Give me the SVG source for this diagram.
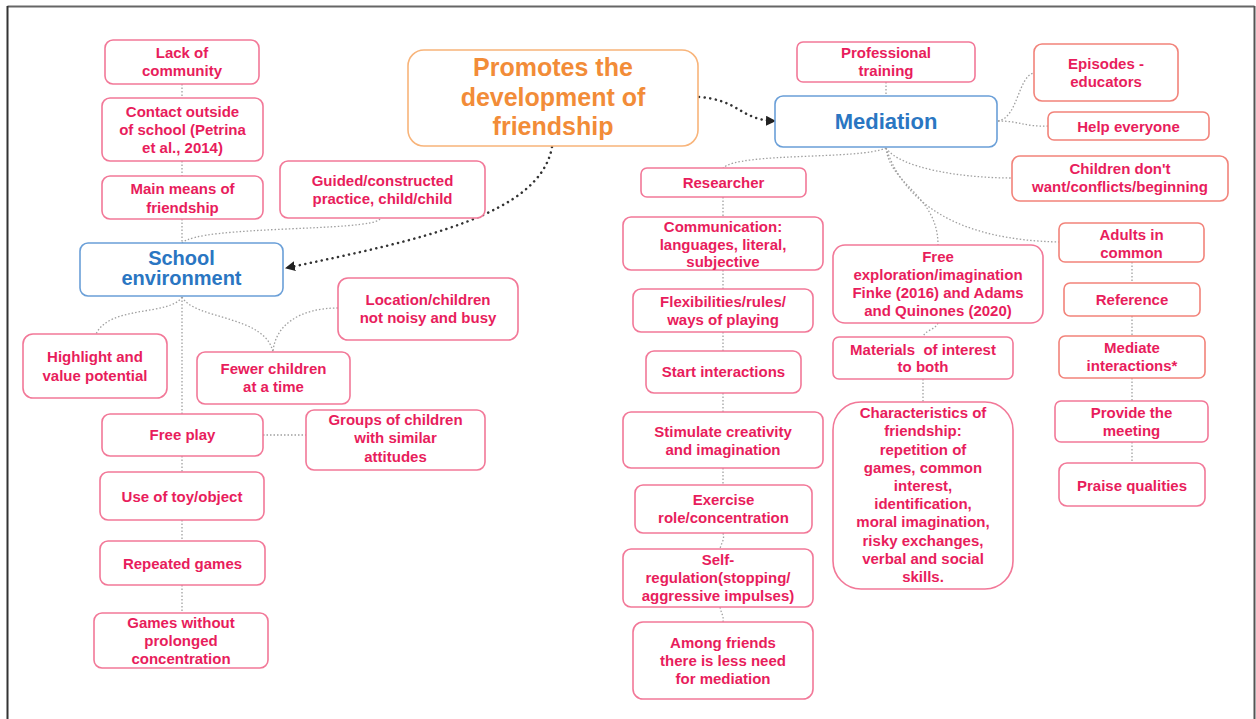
<svg xmlns="http://www.w3.org/2000/svg" width="1256" height="719" viewBox="0 0 1256 719">
<style>
.bx{fill:#fff;stroke:#f27898;stroke-width:1.6}
.bs{fill:#fff;stroke:#f2837a;stroke-width:1.6}
.bb{fill:#fff;stroke:#6a9fd8;stroke-width:1.6}
.bo{fill:#fff;stroke:#f8b47a;stroke-width:1.6}
text{font-family:"Liberation Sans",Arial,sans-serif;font-weight:bold;text-anchor:middle}
.t{font-size:15px;fill:#e81d5c}
.tb{font-size:20px;fill:#2a76c2}
.tm{font-size:22px;fill:#2a76c2}
.to{font-size:25px;fill:#f28c38}
.c{fill:none;stroke:#a0a0a0;stroke-width:1.3;stroke-dasharray:1.5 2}
.a{fill:none;stroke:#333;stroke-width:2.5;stroke-dasharray:0.1 5.5;stroke-linecap:round}
</style>
<defs>
<marker id="ah" viewBox="0 0 10 10" refX="9" refY="5" markerWidth="4" markerHeight="4" orient="auto">
<path d="M0,0 L10,5 L0,10 z" fill="#222"/>
</marker>
</defs>
<g id="frame" fill="none">
<line x1="7.5" y1="6.5" x2="1254.5" y2="6.5" stroke="#666" stroke-width="2"/>
<line x1="7.5" y1="6" x2="7.5" y2="719" stroke="#333" stroke-width="2"/>
<line x1="1254.5" y1="6" x2="1254.5" y2="719" stroke="#555" stroke-width="2"/>
</g>
<g id="connectors">
<path class="c" d="M182,84 V98"/>
<path class="c" d="M182,161 V176"/>
<path class="c" d="M182,219 V243"/>
<path class="c" d="M380,219 C370,232 200,225 182,243"/>
<path class="c" d="M182,297 C170,316 110,305 96,334"/>
<path class="c" d="M182,297 C195,320 265,315 273,352"/>
<path class="c" d="M338,308 C300,308 275,325 273,352"/>
<path class="c" d="M182,297 V414"/>
<path class="c" d="M263,435 H306"/>
<path class="c" d="M182,456 V472"/>
<path class="c" d="M182,520 V541"/>
<path class="c" d="M182,585 V613"/>
<path class="c" d="M886,82 V96"/>
<path class="c" d="M998,121 C1018,118 1018,76 1034,73"/>
<path class="c" d="M998,121 C1020,121 1025,127 1048,126"/>
<path class="c" d="M886,148 C900,168 960,178 1012,178"/>
<path class="c" d="M886,148 C860,160 740,152 723,168"/>
<path class="c" d="M886,148 C890,185 938,195 938,245"/>
<path class="c" d="M886,148 C905,205 960,240 1059,242"/>
<path class="c" d="M723,197 V217"/>
<path class="c" d="M723,270 V289"/>
<path class="c" d="M723,332 V351"/>
<path class="c" d="M723,393 V412"/>
<path class="c" d="M723,468 V485"/>
<path class="c" d="M723,533 C725,540 721,543 720,549"/>
<path class="c" d="M720,607 C721,613 724,616 723,622"/>
<path class="c" d="M938,323 C935,330 925,330 923,337"/>
<path class="c" d="M923,379 V402"/>
<path class="c" d="M1132,262 V283"/>
<path class="c" d="M1132,316 V336"/>
<path class="c" d="M1132,378 V401"/>
<path class="c" d="M1132,442 V463"/>
<path class="a" d="M552,147 C540,215 420,240 286,268" marker-end="url(#ah)"/>
<path class="a" d="M699,97 C740,100 740,120 775,121" marker-end="url(#ah)"/>
</g>
<g id="n-title"><rect class="bo" x="408" y="50" width="290" height="96" rx="16"/><text class="to" x="553" y="76">Promotes the</text><text class="to" x="553" y="105.5">development of</text><text class="to" x="553" y="135">friendship</text></g>
<g id="n-lack"><rect class="bx" x="105" y="40" width="154" height="44" rx="8"/><text class="t" x="182" y="58">Lack of</text><text class="t" x="182" y="76">community</text></g>
<g id="n-contact"><rect class="bx" x="102" y="98" width="161" height="63" rx="8"/><text class="t" x="182.5" y="116.5">Contact outside</text><text class="t" x="182.5" y="134.5">of school (Petrina</text><text class="t" x="182.5" y="152.5">et al., 2014)</text></g>
<g id="n-main"><rect class="bx" x="102" y="176" width="161" height="43" rx="8"/><text class="t" x="182.5" y="193.5">Main means of</text><text class="t" x="182.5" y="212.5">friendship</text></g>
<g id="n-guided"><rect class="bx" x="280" y="161" width="205" height="57" rx="8"/><text class="t" x="382.5" y="186">Guided/constructed</text><text class="t" x="382.5" y="204">practice, child/child</text></g>
<g id="n-school"><rect class="bb" x="80" y="243" width="203" height="53" rx="8"/><text class="tb" x="181.5" y="265">School</text><text class="tb" x="181.5" y="285">environment</text></g>
<g id="n-location"><rect class="bx" x="338" y="278" width="180" height="62" rx="10"/><text class="t" x="428" y="305">Location/children</text><text class="t" x="428" y="323">not noisy and busy</text></g>
<g id="n-highlight"><rect class="bx" x="23" y="334" width="144" height="64" rx="10"/><text class="t" x="95" y="362">Highlight and</text><text class="t" x="95" y="381">value potential</text></g>
<g id="n-fewer"><rect class="bx" x="197" y="352" width="153" height="52" rx="8"/><text class="t" x="273.5" y="374">Fewer children</text><text class="t" x="273.5" y="392">at a time</text></g>
<g id="n-freeplay"><rect class="bx" x="102" y="414" width="161" height="42" rx="8"/><text class="t" x="182.5" y="440">Free play</text></g>
<g id="n-groups"><rect class="bx" x="306" y="410" width="179" height="60" rx="8"/><text class="t" x="395.5" y="424.5">Groups of children</text><text class="t" x="395.5" y="443">with similar</text><text class="t" x="395.5" y="461.5">attitudes</text></g>
<g id="n-use"><rect class="bx" x="100" y="472" width="164" height="48" rx="8"/><text class="t" x="182" y="502">Use of toy/object</text></g>
<g id="n-repeated"><rect class="bx" x="100" y="541" width="165" height="44" rx="8"/><text class="t" x="182.5" y="569">Repeated games</text></g>
<g id="n-games"><rect class="bx" x="94" y="613" width="174" height="55" rx="8"/><text class="t" x="181" y="628">Games without</text><text class="t" x="181" y="646">prolonged</text><text class="t" x="181" y="664">concentration</text></g>
<g id="n-mediation"><rect class="bb" x="775" y="96" width="222" height="51" rx="8"/><text class="tm" x="886" y="129">Mediation</text></g>
<g id="n-professional"><rect class="bx" x="797" y="42" width="178" height="40" rx="6"/><text class="t" x="886" y="58">Professional</text><text class="t" x="886" y="76">training</text></g>
<g id="n-episodes"><rect class="bs" x="1034" y="44" width="144" height="57" rx="8"/><text class="t" x="1106" y="69">Episodes -</text><text class="t" x="1106" y="87">educators</text></g>
<g id="n-help"><rect class="bs" x="1048" y="112" width="161" height="28" rx="6"/><text class="t" x="1128.5" y="132">Help everyone</text></g>
<g id="n-children"><rect class="bs" x="1012" y="156" width="216" height="45" rx="8"/><text class="t" x="1120" y="174">Children don't</text><text class="t" x="1120" y="192">want/conflicts/beginning</text></g>
<g id="n-researcher"><rect class="bx" x="641" y="168" width="165" height="29" rx="6"/><text class="t" x="723.5" y="188">Researcher</text></g>
<g id="n-communication"><rect class="bx" x="623" y="217" width="200" height="53" rx="8"/><text class="t" x="723" y="232">Communication:</text><text class="t" x="723" y="250">languages, literal,</text><text class="t" x="723" y="267">subjective</text></g>
<g id="n-flex"><rect class="bx" x="633" y="289" width="180" height="43" rx="8"/><text class="t" x="723" y="307">Flexibilities/rules/</text><text class="t" x="723" y="325">ways of playing</text></g>
<g id="n-start"><rect class="bx" x="646" y="351" width="155" height="42" rx="8"/><text class="t" x="723.5" y="377">Start interactions</text></g>
<g id="n-stimulate"><rect class="bx" x="623" y="412" width="200" height="56" rx="8"/><text class="t" x="723" y="437">Stimulate creativity</text><text class="t" x="723" y="455">and imagination</text></g>
<g id="n-exercise"><rect class="bx" x="635" y="485" width="177" height="48" rx="8"/><text class="t" x="723.5" y="505">Exercise</text><text class="t" x="723.5" y="523">role/concentration</text></g>
<g id="n-selfreg"><rect class="bx" x="623" y="549" width="190" height="58" rx="8"/><text class="t" x="718" y="565">Self-</text><text class="t" x="718" y="583">regulation(stopping/</text><text class="t" x="718" y="601">aggressive impulses)</text></g>
<g id="n-among"><rect class="bx" x="633" y="622" width="180" height="77" rx="10"/><text class="t" x="723" y="648">Among friends</text><text class="t" x="723" y="666">there is less need</text><text class="t" x="723" y="684">for mediation</text></g>
<g id="n-freeexp"><rect class="bx" x="833" y="245" width="210" height="78" rx="12"/><text class="t" x="938" y="262">Free</text><text class="t" x="938" y="280">exploration/imagination</text><text class="t" x="938" y="298">Finke (2016) and Adams</text><text class="t" x="938" y="316">and Quinones (2020)</text></g>
<g id="n-materials"><rect class="bx" x="833" y="337" width="180" height="42" rx="6"/><text class="t" x="923" y="355" xml:space="preserve">Materials  of interest</text><text class="t" x="923" y="372">to both</text></g>
<g id="n-characteristics"><rect class="bx" x="833" y="402" width="180" height="187" rx="28"/><text class="t" x="923" y="418">Characteristics of</text><text class="t" x="923" y="436">friendship:</text><text class="t" x="923" y="454.5">repetition of</text><text class="t" x="923" y="472.5">games, common</text><text class="t" x="923" y="491">interest,</text><text class="t" x="923" y="509">identification,</text><text class="t" x="923" y="527">moral imagination,</text><text class="t" x="923" y="545.5">risky exchanges,</text><text class="t" x="923" y="563.5">verbal and social</text><text class="t" x="923" y="582">skills.</text></g>
<g id="n-adults"><rect class="bs" x="1059" y="223" width="145" height="39" rx="6"/><text class="t" x="1131.5" y="240">Adults in</text><text class="t" x="1131.5" y="258">common</text></g>
<g id="n-reference"><rect class="bs" x="1064" y="283" width="136" height="33" rx="6"/><text class="t" x="1132" y="305">Reference</text></g>
<g id="n-mediate"><rect class="bs" x="1059" y="336" width="146" height="42" rx="6"/><text class="t" x="1132" y="353">Mediate</text><text class="t" x="1132" y="371">interactions*</text></g>
<g id="n-provide"><rect class="bx" x="1055" y="401" width="153" height="41" rx="6"/><text class="t" x="1131.5" y="418">Provide the</text><text class="t" x="1131.5" y="436">meeting</text></g>
<g id="n-praise"><rect class="bx" x="1059" y="463" width="146" height="43" rx="8"/><text class="t" x="1132" y="491">Praise qualities</text></g>
</svg>
